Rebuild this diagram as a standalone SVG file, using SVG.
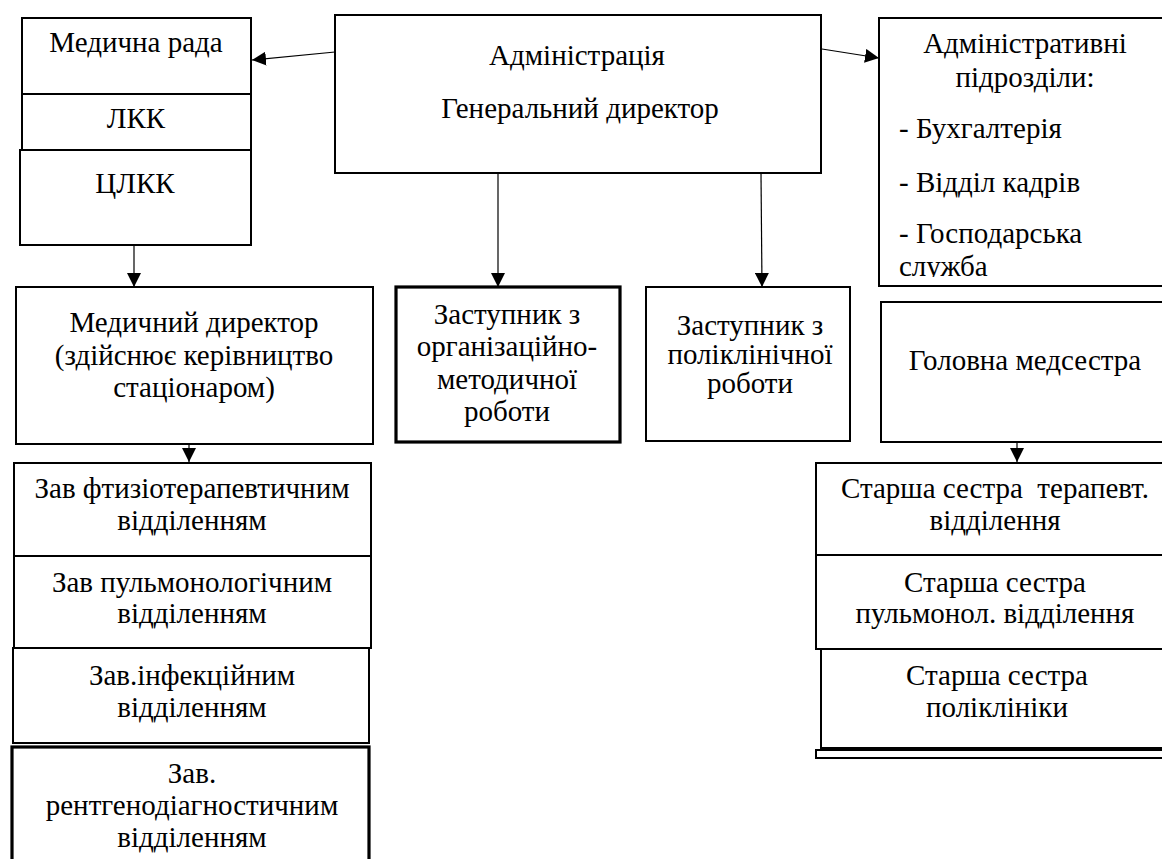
<svg xmlns="http://www.w3.org/2000/svg" width="1162" height="859" viewBox="0 0 1162 859">
<style>
.box{fill:#fff;stroke:#000;stroke-width:2}
.thick{fill:#fff;stroke:#000;stroke-width:3.2}
text{font-family:'Liberation Serif','Times New Roman',serif;font-size:29px;fill:#000;text-anchor:middle}
text.l{text-anchor:start}
.c{fill:none;stroke:#000;stroke-width:1.2}
</style>
<defs>
<marker id="ah" markerUnits="userSpaceOnUse" markerWidth="16" markerHeight="14" refX="14" refY="7" orient="auto">
<path d="M0,0 L14,7 L0,14 Z" fill="#000"/>
</marker>
<clipPath id="clipAdm"><rect x="879" y="18" width="300" height="259"/></clipPath>
</defs>
<rect width="1162" height="859" fill="#fff"/>

<g id="connectors">
<line class="c" x1="335" y1="52" x2="252" y2="60" marker-end="url(#ah)"/>
<line class="c" x1="822" y1="49" x2="879" y2="58" marker-end="url(#ah)"/>
<line class="c" x1="134" y1="246" x2="134" y2="287" marker-end="url(#ah)"/>
<line class="c" x1="498" y1="174" x2="498" y2="287" marker-end="url(#ah)"/>
<line class="c" x1="761" y1="174" x2="762" y2="287" marker-end="url(#ah)"/>
<line class="c" x1="189" y1="445" x2="189" y2="462" marker-end="url(#ah)"/>
<line class="c" x1="1017" y1="443" x2="1017" y2="462" marker-end="url(#ah)"/>
</g>

<g id="medrada">
<rect class="box" x="22" y="18" width="229" height="132"/>
<line x1="22" y1="94" x2="251" y2="94" stroke="#000" stroke-width="2"/>
<text x="136" y="52">Медична рада</text>
<text x="136" y="128">ЛКК</text>
</g>
<g id="clkk">
<rect class="box" x="20" y="150" width="231" height="95"/>
<text x="135" y="193">ЦЛКК</text>
</g>

<g id="admin">
<rect class="box" x="335" y="15" width="486" height="158"/>
<text x="577" y="65">Адміністрація</text>
<text x="580" y="118">Генеральний директор</text>
</g>

<g id="admdiv">
<rect class="box" x="879" y="18" width="300" height="268"/>
<g clip-path="url(#clipAdm)">
<text x="1025" y="53">Адміністративні</text>
<text x="1025" y="87">підрозділи:</text>
<text class="l" x="899" y="138">- Бухгалтерія</text>
<text class="l" x="899" y="192">- Відділ кадрів</text>
<text class="l" x="899" y="243">- Господарська</text>
<text class="l" x="899" y="276">служба</text>
</g>
</g>

<g id="meddir">
<rect class="box" x="16" y="287" width="357" height="157"/>
<text x="194" y="332">Медичний директор</text>
<text x="194" y="365">(здійснює керівництво</text>
<text x="194" y="397">стаціонаром)</text>
</g>

<g id="zast-org">
<rect class="thick" x="396" y="287" width="224" height="155"/>
<text x="507" y="324">Заступник з</text>
<text x="507" y="356">організаційно-</text>
<text x="507" y="389">методичної</text>
<text x="507" y="421">роботи</text>
</g>

<g id="zast-poli">
<rect class="box" x="646" y="287" width="204" height="154"/>
<text x="750" y="335">Заступник з</text>
<text x="750" y="364">поліклінічної</text>
<text x="750" y="393">роботи</text>
</g>

<g id="golovna">
<rect class="box" x="881" y="302" width="300" height="140"/>
<text x="1025" y="370">Головна медсестра</text>
</g>

<g id="zav-ftyz">
<rect class="box" x="14" y="463" width="357" height="93"/>
<text x="192" y="498">Зав фтизіотерапевтичним</text>
<text x="192" y="530">відділенням</text>
</g>
<g id="zav-pulm">
<rect class="box" x="14" y="556" width="357" height="92"/>
<text x="192" y="592">Зав пульмонологічним</text>
<text x="192" y="623">відділенням</text>
</g>
<g id="zav-inf">
<rect class="box" x="13" y="648" width="356" height="95"/>
<text x="192" y="685">Зав.інфекційним</text>
<text x="192" y="717">відділенням</text>
</g>
<g id="zav-rent">
<rect class="thick" x="12" y="747" width="357" height="130"/>
<text x="192" y="783">Зав.</text>
<text x="192" y="815">рентгенодіагностичним</text>
<text x="192" y="847">відділенням</text>
</g>

<g id="st-ter">
<rect class="box" x="816" y="463" width="360" height="92"/>
<text x="995" y="498" xml:space="preserve">Старша сестра  терапевт.</text>
<text x="995" y="530">відділення</text>
</g>
<g id="st-pulm">
<rect class="box" x="816" y="555" width="360" height="94"/>
<text x="995" y="592">Старша сестра</text>
<text x="995" y="623">пульмонол. відділення</text>
</g>
<g id="st-poli">
<rect class="box" x="821" y="649" width="355" height="99"/>
<rect class="box" x="816" y="750" width="360" height="8"/>
<text x="997" y="685">Старша сестра</text>
<text x="997" y="717">поліклініки</text>
</g>
</svg>
